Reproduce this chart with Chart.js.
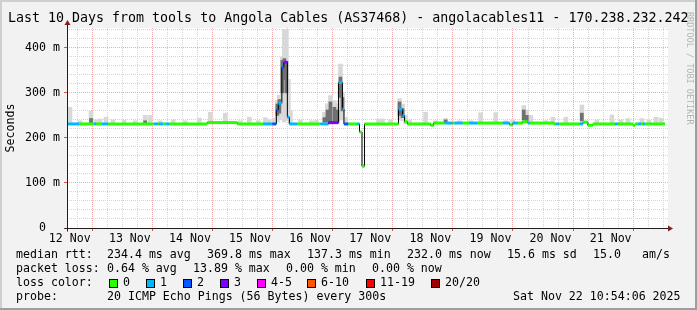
<!DOCTYPE html>
<html>
<head>
<meta charset="utf-8">
<script src="https://cdn.jsdelivr.net/npm/chart.js@4.4.1/dist/chart.umd.min.js"></script>
<style>
  body { margin: 0; background: #f2f2f2; }
  #wrap { position: relative; width: 697px; height: 310px; overflow: hidden;
          font-family: "DejaVu Sans Mono", monospace; color: #000; }
  #wrap canvas { position: absolute; left: 0; top: 0; }
  .t { position: absolute; white-space: pre; font-size: 11.6px; line-height: 14px; }
  .box { position: absolute; width: 9px; height: 9px; box-sizing: border-box; border: 1px solid #000; }
  #title { left: 8px; top: 10px; font-size: 13.3px; line-height: 16px; }
  #stamp { position: absolute; left: 685px; top: 12px; writing-mode: vertical-rl;
           font-size: 8.5px; color: #b4b4b4; white-space: pre; }
</style>
</head>
<body>
<div id="wrap">
  <canvas id="smoke" width="697" height="310"></canvas>
  <div class="t" id="title">Last 10 Days from tools to Angola Cables (AS37468) - angolacables11 - 170.238.232.242</div>
  <div id="stamp">RRDTOOL / TOBI OETIKER</div>
</div>
<script>
// hours since Nov 12 10:54, median rtt (ms) and loss class at each change
const medianHours = [0, 4.8, 10.8, 11.6, 14, 16.4, 34.8, 36.4, 36.8, 38.4, 39.6, 40.8, 56, 68, 78.4, 82,
  83.6, 84.4, 85.8, 86.6, 88, 88.8, 92, 101.2, 104.4, 108.4, 110, 110.6, 112.4, 116, 116.8, 117.8, 118.8,
  132.4, 134, 134.8, 136, 145.2, 146.4, 150.8, 154, 154.8, 158, 160.8, 164, 174, 176.8, 178, 180, 182, 184,
  184.8, 194.4, 195.2, 196.4, 204.8, 206, 208, 210, 218.8, 220, 226, 226.8, 228, 229.2, 230, 230.8, 238.8];
const medianRtt = [231, 231, 231, 231, 231, 231, 231, 231, 231, 231, 231, 231, 234, 231, 231, 231,
  262, 277, 356, 368, 246, 231, 231, 231, 234, 323, 264, 231, 231, 231, 213, 137, 231,
  264, 250, 236, 231, 228, 233, 233, 233, 233, 233, 233, 233, 233, 229, 233, 233, 236, 233,
  233, 231, 231, 231, 231, 235, 228, 231, 231, 231, 228, 231, 231, 231, 231, 231, 231];
const medianLoss = [1, 0, 1, 0, 1, 0, 1, 0, 1, 0, 1, 0, 0, 0, 1, 2,
  2, 1, 2, 3, 1, 1, 0, 1, 3, 1, 1, 2, 0, 1, 0, 0, 0,
  1, 1, 0, 0, 0, 0, 1, 0, 1, 0, 1, 0, 1, 0, 1, 0, 0, 1,
  0, 0, 1, 0, 1, 0, 0, 0, 1, 0, 0, 0, 1, 0, 1, 0, 0];

// smoke: spread of the 20 pings (light) and its dense core (dark)
const smokeHours = [1.2, 5.2, 9.6, 11.6, 13.2, 15.6, 18.4, 22.8, 27.2, 31.2, 33.2, 37.2, 42.4, 47.2, 52.8,
  57.2, 63.2, 69.2, 72.8, 76.4, 79.2, 80.8, 82.8, 84, 84.8, 86, 86.8, 87.6, 88.4, 89.2, 93.2, 97.6, 99.6,
  102.8, 104, 105.2, 106.8, 108, 109.2, 110, 111.2, 124.4, 126, 129.2, 132.8, 134, 135.2, 136.8, 143.2,
  147.2, 151.2, 156.8, 161.2, 165.2, 171.2, 175.2, 178, 182.4, 183.6, 185.2, 191.2, 194, 199.2, 205.6,
  211.6, 217.6, 221.2, 224, 229.6, 232.4, 235.2, 237.2];
const smokeLow = [231, 231, 231, 231, 231, 231, 231, 231, 231, 231, 231, 231, 231, 231, 231,
  234, 234, 231, 231, 231, 231, 231, 231, 235, 240, 250, 235, 240, 240, 232, 231, 231, 231,
  231, 231, 231, 231, 231, 240, 240, 231, 231, 231, 231, 240, 238, 231, 231, 231,
  233, 233, 233, 233, 233, 233, 233, 233, 233, 233, 233, 231, 231, 231, 231,
  231, 231, 231, 231, 231, 231, 231, 231];
const smokeHigh = [268, 238, 259, 240, 242, 246, 240, 240, 238, 250, 250, 238, 240, 238, 244,
  257, 255, 238, 246, 238, 245, 240, 244, 283, 295, 380, 441, 441, 330, 260, 240, 238, 239,
  257, 276, 294, 283, 276, 364, 300, 245, 242, 242, 240, 287, 275, 250, 240, 257,
  238, 243, 238, 238, 256, 256, 238, 240, 272, 262, 250, 238, 246, 246, 273,
  240, 251, 240, 243, 243, 240, 246, 244];
const coreHours = [9.6, 31.2, 84, 84.8, 86, 86.8, 87.6, 102.8, 104, 105.2, 106.8, 108, 109.2, 110,
  132.8, 134, 151.2, 182.4, 183.6, 205.6];
const coreLow = [231, 231, 250, 255, 300, 330, 300, 235, 235, 235, 235, 235, 290, 260,
  250, 245, 235, 240, 238, 238];
const coreHigh = [243, 238, 275, 285, 372, 376, 370, 245, 262, 280, 268, 262, 335, 290,
  280, 265, 240, 262, 250, 255];

const dayLabels = ['12 Nov', '13 Nov', '14 Nov', '15 Nov', '16 Nov', '17 Nov', '18 Nov', '19 Nov', '20 Nov', '21 Nov'];
const firstMidnight = 13.1;   // hours from start to Nov 13 00:00
const lossColors = ['#26ff00', '#00b8ff', '#0059ff', '#7e00ff', '#ff00ff', '#ff5500', '#ff0000', '#a10000'];
const lossLabels = ['0', '1', '2', '3', '4-5', '6-10', '11-19', '20/20'];

const font = { family: 'DejaVu Sans Mono', size: 11.6 };

// tick positions every 6 hours, aligned on midnight
const xTicks = [];
for (let h = firstMidnight - 12; h < 240; h += 6) xTicks.push(h);
const yTicks = [];
for (let v = 0; v <= 440; v += 20) yTicks.push(v);

const isMidnight = v => Math.abs(((v - firstMidnight) % 24 + 24) % 24) < 0.01;
const isNoon = v => Math.abs(((v - firstMidnight + 12) % 24 + 24) % 24) < 0.01;
const tickVal = ctx => (ctx && ctx.tick) ? ctx.tick.value : -1;

// median: thin black step line + thick loss-coloured pieces
const blackLine = medianHours.map((h, i) => ({ x: h, y: medianRtt[i] }));
const colorLine = [];
for (let i = 0; i < medianHours.length - 1; i++) {
    colorLine.push({ x: medianHours[i], y: medianRtt[i], loss: medianLoss[i] });
    colorLine.push({ x: medianHours[i + 1], y: medianRtt[i], loss: medianLoss[i] });
    colorLine.push({ x: medianHours[i + 1], y: null, loss: medianLoss[i] });
}

const frame = {
    id: 'frame',
    beforeDraw(chart) {
        const { ctx, chartArea: a, width, height } = chart;
        ctx.save();
        ctx.fillStyle = '#f2f2f2';
        ctx.fillRect(0, 0, width, height);
        ctx.fillStyle = '#cfcfcf';
        ctx.fillRect(0, 0, width, 2);
        ctx.fillRect(0, 0, 2, height);
        ctx.fillStyle = '#9e9e9e';
        ctx.fillRect(0, height - 2, width, 2);
        ctx.fillRect(width - 2, 0, 2, height);
        ctx.fillStyle = '#ffffff';
        ctx.fillRect(a.left, a.top, a.right - a.left, a.bottom - a.top);
        ctx.restore();
    },
    afterDraw(chart) {
        const { ctx, chartArea: a } = chart;
        const x0 = Math.round(a.left) + 0.5, y0 = Math.round(a.bottom) + 0.5;
        ctx.save();
        ctx.strokeStyle = '#1f1f1f';
        ctx.lineWidth = 1;
        ctx.beginPath();
        ctx.moveTo(x0 - 3, y0); ctx.lineTo(a.right + 2, y0);
        ctx.moveTo(x0, y0 + 3); ctx.lineTo(x0, a.top - 4);
        ctx.stroke();
        ctx.fillStyle = '#801f1f';
        ctx.beginPath();
        ctx.moveTo(a.right + 5, y0); ctx.lineTo(a.right, y0 - 3); ctx.lineTo(a.right, y0 + 3);
        ctx.closePath(); ctx.fill();
        ctx.beginPath();
        ctx.moveTo(x0, a.top - 8); ctx.lineTo(x0 - 3, a.top - 3); ctx.lineTo(x0 + 3, a.top - 3);
        ctx.closePath(); ctx.fill();
        ctx.restore();
    }
};

new Chart(document.getElementById('smoke'), {
    type: 'line',
    data: {
        datasets: [{
            label: 'median loss colour',
            data: colorLine,
            borderWidth: 3,
            borderCapStyle: 'butt',
            pointRadius: 0,
            spanGaps: false,
            segment: {
                borderColor: ctx => lossColors[colorLine[ctx.p0DataIndex].loss]
            },
            borderColor: lossColors[0],
            order: 0
        }, {
            label: 'median rtt',
            data: blackLine,
            borderColor: '#000000',
            borderWidth: 1,
            stepped: true,
            pointRadius: 0,
            order: 1
        }, {
            type: 'bar',
            label: 'core',
            data: coreHours.map((h, i) => ({ x: h, y: [coreLow[i], coreHigh[i]] })),
            backgroundColor: '#707070',
            barThickness: 3,
            grouped: false,
            order: 2
        }, {
            type: 'bar',
            label: 'smoke',
            data: smokeHours.map((h, i) => ({ x: h, y: [smokeLow[i], smokeHigh[i]] })),
            backgroundColor: '#d8d8d8',
            barThickness: 4,
            grouped: false,
            order: 3
        }]
    },
    options: {
        responsive: false,
        animation: false,
        events: [],
        layout: { padding: { left: 0, top: 28, right: 29, bottom: 0 } },
        plugins: { legend: { display: false }, tooltip: { enabled: false } },
        scales: {
            x: {
                type: 'linear',
                min: 0,
                max: 240,
                offset: false,
                afterBuildTicks: s => { s.ticks = xTicks.map(v => ({ value: v })); },
                afterFit: s => { s.height = 82; },
                ticks: {
                    autoSkip: false,
                    maxRotation: 0,
                    minRotation: 0,
                    padding: 1,
                    color: '#000',
                    font: font,
                    callback: v => isNoon(v) ? dayLabels[Math.round((v - firstMidnight + 12) / 24)] : ''
                },
                grid: {
                    color: ctx => isMidnight(tickVal(ctx)) ? '#f2aaaa' : '#d4d4d4',
                    tickLength: 3,
                    tickColor: ctx => isMidnight(tickVal(ctx)) ? '#de4f4f' : 'rgba(0,0,0,0)'
                },
                border: { display: false, dash: [1, 1] }
            },
            y: {
                type: 'linear',
                min: 0,
                max: 444,
                afterBuildTicks: s => { s.ticks = yTicks.map(v => ({ value: v })); },
                afterFit: s => { s.width = 67; },
                ticks: {
                    autoSkip: false,
                    padding: 4,
                    color: '#000',
                    font: font,
                    callback: v => v % 100 === 0 ? (v === 0 ? '0  ' : v + ' m') : ''
                },
                grid: {
                    color: ctx => tickVal(ctx) % 100 === 0 ? '#f2aaaa' : '#d4d4d4',
                    tickLength: 3,
                    tickColor: ctx => tickVal(ctx) % 100 === 0 ? '#de4f4f' : 'rgba(0,0,0,0)'
                },
                border: { display: false, dash: [1, 1] },
                title: {
                    display: true,
                    text: 'Seconds',
                    color: '#000',
                    font: font,
                    padding: { top: 4, bottom: 0 }
                }
            }
        }
    },
    plugins: [frame]
});

// legend rows under the graph
const wrap = document.getElementById('wrap');
function put(text, x, y) {
    const d = document.createElement('div');
    d.className = 't';
    d.style.left = x + 'px';
    d.style.top = y + 'px';
    d.textContent = text;
    wrap.appendChild(d);
}
put('median rtt:', 16, 247);
put('234.4 ms avg', 107, 247);
put('369.8 ms max', 207, 247);
put('137.3 ms min', 307, 247);
put('232.0 ms now', 407, 247);
put('15.6 ms sd', 507, 247);
put('15.0', 593, 247);
put('am/s', 642, 247);

put('packet loss:', 16, 261);
put('0.64 % avg', 107, 261);
put('13.89 % max', 193, 261);
put('0.00 % min', 286, 261);
put('0.00 % now', 372, 261);

put('loss color:', 16, 275);
const boxX = [109, 146, 183, 220, 257, 307, 366, 431];
lossColors.forEach((c, i) => {
    const b = document.createElement('div');
    b.className = 'box';
    b.style.left = boxX[i] + 'px';
    b.style.top = '279px';
    b.style.background = c;
    wrap.appendChild(b);
    put(lossLabels[i], boxX[i] + 14, 275);
});

put('probe:', 16, 289);
put('20 ICMP Echo Pings (56 Bytes) every 300s', 107, 289);
put('Sat Nov 22 10:54:06 2025', 513, 289);
</script>
</body>
</html>
